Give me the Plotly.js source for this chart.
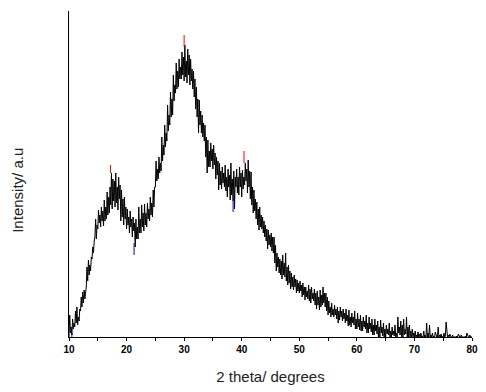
<!DOCTYPE html>
<html>
<head>
<meta charset="utf-8">
<script src="https://cdn.plot.ly/plotly-3.0.1.min.js"></script>
<style>html,body{margin:0;padding:0;background:#fff;}#chart{width:486px;height:392px;}</style>
</head>
<body>
<div id="chart"></div>
<script>
// XRD pattern: start angle, step (degrees) and intensities
const thetaStart = 10.0;
const thetaStep = 0.125;
const intensity = [
  0, 22, 4, 10, 2, 18, 8, 14,
  10, 26, 14, 30, 12, 20, 16, 28,
  26, 40, 30, 45, 34, 47, 38, 44,
  50, 70, 56, 77, 62, 72, 66, 80,
  78, 90, 84, 96, 100, 118, 98, 112,
  108, 127, 114, 122, 110, 130, 116, 126,
  111, 137, 116, 130, 118, 145, 122, 140,
  124, 150, 132, 164, 128, 158, 136, 156,
  130, 164, 134, 150, 127, 160, 138, 152,
  116, 147, 120, 138, 112, 140, 118, 130,
  108, 128, 112, 120, 104, 126, 110, 118,
  100, 120, 106, 114, 90, 118, 98, 110,
  98, 130, 104, 118, 104, 132, 110, 124,
  106, 133, 112, 124, 110, 134, 118, 128,
  116, 140, 122, 134, 120, 147, 130, 150,
  150, 176, 156, 168, 158, 180, 164, 174,
  166, 200, 176, 192, 182, 212, 190, 204,
  196, 232, 206, 222, 212, 245, 220, 238,
  222, 262, 236, 252, 244, 274, 248, 266,
  250, 278, 258, 270, 258, 285, 262, 280,
  256, 292, 260, 276, 254, 288, 262, 282,
  252, 278, 256, 268, 248, 266, 240, 258,
  228, 250, 220, 238, 204, 237, 212, 226,
  204, 222, 200, 214, 196, 212, 180, 200,
  164, 197, 170, 186, 170, 194, 176, 188,
  168, 192, 172, 184, 158, 180, 162, 176,
  147, 174, 152, 166, 148, 170, 154, 164,
  150, 172, 146, 160, 140, 168, 150, 162,
  137, 174, 142, 158, 136, 166, 128, 160,
  150, 168, 144, 160, 142, 170, 150, 164,
  140, 167, 148, 160, 152, 174, 156, 168,
  144, 177, 150, 166, 138, 165, 132, 150,
  124, 147, 126, 138, 118, 135, 112, 128,
  107, 130, 110, 122, 108, 120, 104, 116,
  100, 112, 96, 108, 88, 107, 92, 102,
  90, 104, 86, 100, 84, 100, 74, 92,
  66, 84, 70, 80, 64, 78, 62, 76,
  58, 82, 62, 74, 60, 84, 56, 70,
  52, 72, 54, 66, 48, 64, 50, 60,
  47, 62, 50, 58, 44, 57, 46, 54,
  44, 56, 46, 52, 40, 54, 42, 50,
  37, 50, 40, 46, 38, 52, 36, 48,
  34, 50, 38, 44, 36, 48, 32, 44,
  28, 46, 32, 40, 27, 47, 30, 42,
  32, 50, 34, 44, 30, 44, 26, 40,
  22, 36, 24, 30, 20, 34, 22, 28,
  20, 32, 22, 28, 18, 30, 14, 26,
  17, 30, 20, 26, 16, 28, 18, 24,
  14, 28, 16, 22, 11, 27, 12, 20,
  10, 24, 14, 20, 12, 26, 8, 18,
  8, 24, 10, 18, 7, 22, 6, 16,
  6, 20, 10, 16, 8, 22, 4, 14,
  4, 20, 8, 14, 5, 18, 2, 12,
  2, 18, 6, 12, 3, 16, 0, 10,
  0, 17, 4, 10, 1, 14, 0, 8,
  0, 12, 3, 8, 2, 14, 0, 6,
  0, 10, 2, 6, 1, 12, 0, 4,
  0, 20, 4, 10, 2, 16, 0, 12,
  0, 18, 2, 8, 3, 20, 0, 10,
  0, 12, 0, 6, 0, 8, 0, 4,
  0, 6, 0, 2, 0, 5, 0, 3,
  0, 4, 0, 1, 0, 6, 0, 2,
  0, 14, 0, 4, 0, 12, 0, 2,
  0, 4, 0, 1, 0, 5, 0, 0,
  0, 10, 0, 2, 0, 3, 0, 1,
  0, 4, 0, 1, 15, 0, 0, 2,
  0, 3, 0, 0, 0, 2, 0, 0,
  0, 0, 0, 1, 0, 3, 0, 0,
  0, 2, 0, 0, 0, 0, 0, 1,
  0, 4, 0, 0, 0, 2, 0, 0,
  0
];
const theta = intensity.map((_, i) => +(thetaStart + thetaStep * i).toFixed(3));

// peak (red) and valley (blue) markers
const peakTheta = [17.2, 30.0, 40.4];
const peakLow = [164, 290, 174];
const peakHigh = [172, 302, 186];
const valleyTheta = [10.5, 21.3, 38.5];
const valleyLow = [0, 82, 125];
const valleyHigh = [4, 94, 136];

function segs(xs, lo, hi) {
  const x = [], y = [];
  xs.forEach((v, i) => { x.push(v, v, null); y.push(lo[i], hi[i], null); });
  return {x, y};
}
const pk = segs(peakTheta, peakLow, peakHigh);
const vl = segs(valleyTheta, valleyLow, valleyHigh);

const xTicks = [10, 20, 30, 40, 50, 60, 70, 80];

const data = [
  {x: theta, y: intensity, type: 'scatter', mode: 'lines',
   line: {color: '#000', width: 1}, hoverinfo: 'skip'},
  {x: pk.x, y: pk.y, type: 'scatter', mode: 'lines',
   line: {color: '#ff0000', width: 1}, hoverinfo: 'skip'},
  {x: vl.x, y: vl.y, type: 'scatter', mode: 'lines',
   line: {color: '#0000ff', width: 1}, hoverinfo: 'skip'}
];

const layout = {
  width: 486, height: 392,
  margin: {l: 69, r: 14, t: 11, b: 55},
  paper_bgcolor: '#fff', plot_bgcolor: '#fff',
  showlegend: false,
  font: {family: 'Arial, "Liberation Sans", sans-serif', color: '#000'},
  xaxis: {
    range: [10, 80], tickmode: 'array', tickvals: xTicks,
    ticks: 'outside', ticklen: 3, tickwidth: 1, tickcolor: '#000',
    minor: {dtick: 5, ticks: 'outside', ticklen: 3, tickcolor: '#000'},
    showgrid: false, zeroline: false, showline: true, linecolor: '#000', linewidth: 1,
    tickfont: {size: 10, weight: 'bold', color: '#000'},
    title: {text: '2 theta/ degrees', font: {size: 15, color: '#222'}, standoff: 17},
    automargin: false
  },
  yaxis: {
    range: [0, 326], showticklabels: false, ticks: '',
    showgrid: false, zeroline: false, showline: true, linecolor: '#000', linewidth: 1,
    automargin: false
  },
  annotations: [{
    text: 'Intensity/ a.u', textangle: -90, showarrow: false,
    xref: 'paper', yref: 'paper', x: -0.127, y: 0.451,
    xanchor: 'center', yanchor: 'middle',
    font: {size: 15, color: '#222'}
  }]
};

Plotly.newPlot('chart', data, layout, {staticPlot: true, displayModeBar: false});
</script>
</body>
</html>
